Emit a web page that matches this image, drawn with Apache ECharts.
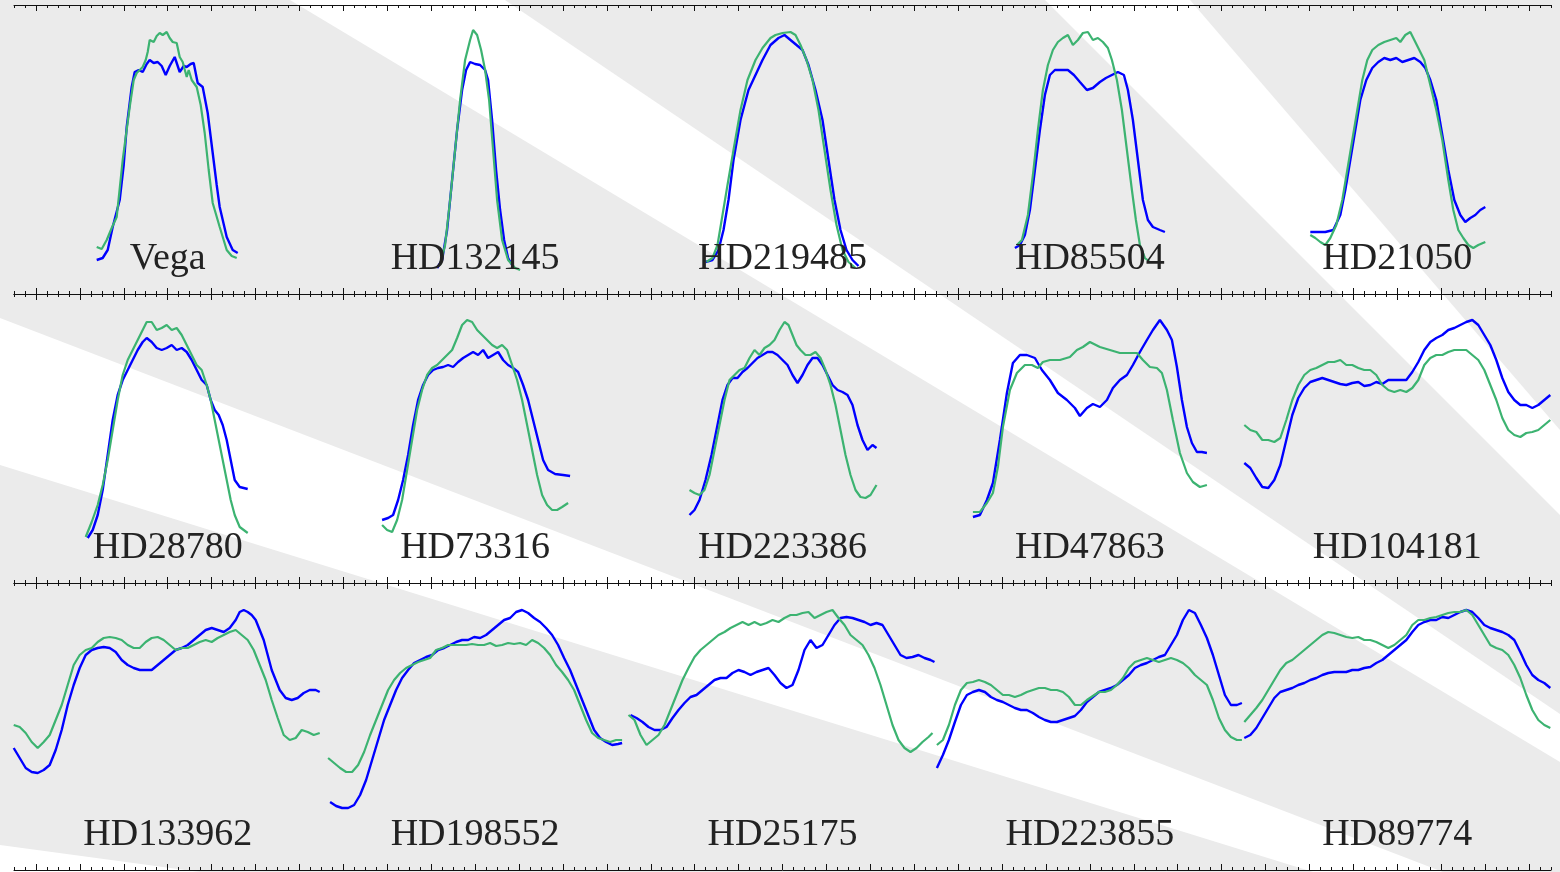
<!DOCTYPE html>
<html>
<head>
<meta charset="utf-8">
<script src="https://cdn.jsdelivr.net/npm/echarts@6/dist/echarts.min.js"></script>
<style>
  html, body { margin: 0; padding: 0; background: #ebebeb; }
  #chart { width: 1560px; height: 872px; }
</style>
</head>
<body>
<div id="chart"></div>
<script>
// star names, row by row
var stars = ['Vega', 'HD132145', 'HD219485', 'HD85504', 'HD21050',
             'HD28780', 'HD73316', 'HD223386', 'HD47863', 'HD104181',
             'HD133962', 'HD198552', 'HD25175', 'HD223855', 'HD89774'];

// line profiles: [offset from panel centre, flux above row floor]
var blueVega = [[-71,34],[-65,36],[-60,44],[-55,67],[-48,94],[-44,129],[-41,167],[-36,207],[-33,222],[-29,224],[-25,222],[-21,230],[-18,234],[-14,231],[-10,232],[-6,228],[-2,219],[2,228],[7,237],[12,222],[16,228],[19,227],[23,230],[26,231],[30,211],[35,207],[40,181],[45,141],[49,109],[52,87],[59,57],[65,44],[70,41]];
var greenVega = [[-71,47],[-66,45],[-61,54],[-56,66],[-51,77],[-45,134],[-38,187],[-34,214],[-31,221],[-25,227],[-22,234],[-20,242],[-18,254],[-14,252],[-11,258],[-8,261],[-5,259],[-1,262],[2,256],[5,252],[9,251],[12,237],[15,232],[17,231],[19,217],[21,224],[24,214],[29,207],[33,189],[37,161],[41,124],[45,91],[52,67],[59,44],[64,38],[69,36]];

var blueHD132145 = [[-38,26],[-33,34],[-28,64],[-23,114],[-18,164],[-13,204],[-9,224],[-5,232],[0,230],[5,229],[10,224],[13,214],[17,174],[21,124],[25,84],[29,54],[33,36],[37,29]];
var greenHD132145 = [[-35,29],[-30,49],[-25,94],[-20,144],[-15,194],[-10,234],[-5,254],[-2,264],[2,259],[6,244],[10,224],[14,194],[18,144],[22,94],[27,54],[33,34],[40,26],[45,24]];

var blueHD219485 = [[-77,32],[-70,34],[-64,44],[-59,64],[-54,94],[-49,134],[-42,174],[-34,204],[-27,219],[-20,234],[-12,249],[-4,256],[2,259],[8,254],[14,249],[20,244],[26,229],[33,204],[40,174],[46,134],[52,94],[58,64],[64,44],[70,34],[76,28]];
var greenHD219485 = [[-76,32],[-70,36],[-65,49],[-60,79],[-55,109],[-49,144],[-42,184],[-35,214],[-27,234],[-20,246],[-12,256],[-7,259],[0,261],[8,262],[13,259],[18,249],[24,234],[30,214],[36,184],[42,144],[48,104],[54,69],[60,44],[66,32],[73,26]];

var blueHD85504 = [[-75,46],[-70,49],[-65,59],[-60,84],[-55,124],[-50,164],[-45,199],[-40,219],[-35,224],[-28,224],[-22,224],[-16,219],[-10,212],[-3,204],[3,206],[10,212],[16,216],[22,219],[28,222],[34,219],[38,204],[43,174],[48,134],[53,94],[58,74],[63,67],[70,64],[75,62]];
var greenHD85504 = [[-73,49],[-68,54],[-62,79],[-57,119],[-52,164],[-47,204],[-42,229],[-37,244],[-32,252],[-27,256],[-22,259],[-17,249],[-12,254],[-7,261],[-2,262],[3,254],[8,256],[13,252],[18,246],[22,234],[27,214],[32,184],[37,144],[42,104],[46,74],[50,49],[55,36],[60,32],[65,32],[70,32]];

var blueHD21050 = [[-87,62],[-79,62],[-72,62],[-64,64],[-57,79],[-52,104],[-47,134],[-42,164],[-37,194],[-31,214],[-25,226],[-19,232],[-13,236],[-7,234],[-1,236],[5,232],[11,234],[17,236],[23,232],[28,226],[33,214],[39,194],[45,159],[51,124],[57,94],[63,79],[68,72],[73,76],[78,79],[83,84],[88,87]];
var greenHD21050 = [[-87,59],[-82,56],[-77,52],[-72,49],[-67,56],[-61,69],[-55,94],[-50,124],[-45,154],[-40,184],[-35,214],[-30,234],[-25,244],[-19,249],[-13,252],[-7,254],[-1,256],[3,252],[8,259],[13,262],[17,254],[21,246],[27,234],[33,209],[39,184],[45,154],[51,114],[56,84],[61,64],[66,56],[71,49],[76,46],[81,49],[88,52]];

var blueHD28780 = [[-80,45],[-75,53],[-70,68],[-65,93],[-60,128],[-55,163],[-50,188],[-45,203],[-40,213],[-35,223],[-30,233],[-25,241],[-21,245],[-16,241],[-11,235],[-6,233],[-1,235],[4,238],[9,233],[14,235],[19,231],[24,223],[29,213],[34,203],[39,198],[43,183],[47,173],[51,168],[55,158],[59,143],[63,123],[67,103],[72,96],[80,94]];
var greenHD28780 = [[-82,46],[-76,61],[-70,78],[-65,98],[-60,123],[-55,153],[-50,183],[-45,208],[-40,223],[-35,233],[-30,243],[-25,253],[-21,261],[-16,261],[-11,253],[-6,255],[-1,258],[4,253],[9,255],[14,248],[19,238],[24,228],[29,218],[34,213],[39,198],[43,183],[47,163],[51,143],[55,123],[59,103],[63,83],[67,68],[72,56],[80,50]];

var blueHD73316 = [[-93,63],[-87,65],[-82,68],[-77,83],[-72,103],[-67,128],[-62,158],[-57,183],[-52,198],[-47,208],[-42,213],[-37,215],[-32,216],[-27,218],[-22,216],[-17,221],[-12,225],[-7,228],[-2,231],[3,228],[8,233],[13,225],[18,228],[23,231],[28,223],[33,218],[38,215],[43,211],[48,198],[53,183],[58,163],[63,143],[68,123],[73,113],[80,109],[88,108],[95,107]];
var greenHD73316 = [[-93,58],[-88,53],[-83,51],[-78,63],[-73,83],[-68,113],[-63,143],[-58,173],[-53,193],[-48,208],[-43,215],[-38,218],[-33,223],[-28,228],[-23,233],[-18,245],[-13,258],[-8,263],[-3,261],[2,253],[7,248],[12,243],[17,238],[22,235],[27,238],[32,233],[37,218],[42,203],[47,183],[52,158],[57,133],[62,108],[67,88],[72,78],[77,73],[82,73],[87,76],[93,80]];

var blueHD223386 = [[-93,68],[-88,73],[-83,83],[-77,103],[-71,128],[-65,158],[-60,183],[-55,198],[-50,205],[-45,205],[-40,211],[-35,215],[-30,220],[-25,225],[-20,228],[-15,231],[-10,231],[-5,228],[0,223],[5,218],[10,208],[15,200],[20,208],[25,218],[30,225],[35,225],[40,218],[45,208],[50,198],[55,193],[60,191],[65,188],[70,178],[75,158],[80,143],[85,133],[90,138],[94,135]];
var greenHD223386 = [[-93,93],[-88,90],[-83,88],[-78,93],[-73,108],[-68,133],[-63,158],[-58,183],[-53,203],[-48,208],[-43,213],[-38,215],[-33,225],[-28,233],[-23,228],[-18,235],[-13,238],[-8,243],[-3,253],[2,261],[6,258],[10,248],[14,238],[18,233],[23,228],[28,228],[33,231],[38,225],[43,213],[48,198],[53,178],[58,153],[63,128],[68,108],[73,93],[78,86],[83,85],[88,88],[94,98]];

var blueHD47863 = [[-117,66],[-110,68],[-103,83],[-97,100],[-90,143],[-83,190],[-77,220],[-70,228],[-63,228],[-55,225],[-48,213],[-40,203],[-32,190],[-23,183],[-15,175],[-10,167],[-3,175],[3,179],[10,176],[17,183],[23,195],[30,203],[37,208],[43,218],[50,231],[57,243],[63,253],[70,263],[77,253],[82,243],[87,216],[92,183],[97,156],[102,140],[107,131],[112,131],[117,130]];
var greenHD47863 = [[-117,71],[-110,71],[-103,80],[-97,90],[-92,116],[-87,156],[-80,193],[-73,210],[-65,218],[-58,218],[-52,215],[-47,221],[-40,223],[-30,223],[-20,226],[-13,233],[-7,236],[0,241],[10,236],[20,233],[30,230],[40,230],[47,230],[53,223],[60,216],[67,215],[72,210],[77,193],[83,163],[90,130],[97,110],[103,101],[110,96],[117,98]];

var blueHD104181 = [[-153,120],[-147,115],[-141,105],[-135,96],[-129,95],[-123,103],[-117,118],[-111,143],[-105,168],[-99,185],[-93,195],[-87,201],[-81,203],[-75,205],[-69,203],[-63,201],[-57,199],[-51,198],[-45,200],[-39,201],[-33,197],[-27,198],[-21,201],[-15,199],[-9,203],[-3,203],[3,203],[9,203],[15,211],[21,221],[27,233],[33,241],[39,245],[45,248],[51,253],[57,255],[63,258],[69,261],[75,263],[81,258],[87,248],[93,238],[99,223],[105,205],[111,191],[117,183],[123,178],[129,178],[135,175],[141,178],[147,183],[153,188]];
var greenHD104181 = [[-153,158],[-147,153],[-141,151],[-135,143],[-129,143],[-123,141],[-117,145],[-111,163],[-105,183],[-99,198],[-93,208],[-87,213],[-81,215],[-75,218],[-69,221],[-63,221],[-57,223],[-51,218],[-45,218],[-39,215],[-33,213],[-27,213],[-21,208],[-15,198],[-9,193],[-3,191],[3,193],[9,191],[15,195],[21,203],[27,218],[33,225],[39,228],[45,228],[51,231],[57,233],[63,233],[69,233],[75,228],[81,223],[87,213],[93,198],[99,183],[105,165],[111,153],[117,148],[123,146],[129,150],[135,151],[141,153],[147,158],[153,163]];

var blueHD133962 = [[-154,122],[-148,112],[-142,102],[-136,98],[-130,97],[-124,100],[-118,105],[-112,120],[-106,140],[-100,165],[-94,185],[-88,202],[-82,215],[-76,220],[-70,222],[-64,223],[-58,222],[-52,218],[-46,210],[-40,205],[-34,202],[-28,200],[-22,200],[-16,200],[-10,205],[-4,210],[2,215],[8,220],[14,222],[20,225],[26,230],[32,235],[38,240],[44,242],[50,240],[56,238],[62,242],[68,250],[72,258],[76,260],[80,258],[84,255],[88,250],[92,240],[96,230],[100,215],[104,200],[108,190],[112,180],[118,172],[124,170],[130,172],[136,177],[142,180],[148,180],[152,178]];
var greenHD133962 = [[-154,145],[-148,143],[-142,137],[-136,128],[-130,122],[-124,128],[-118,135],[-112,150],[-106,165],[-100,185],[-94,205],[-88,215],[-82,220],[-76,222],[-70,228],[-64,232],[-58,233],[-52,232],[-46,230],[-40,225],[-34,222],[-28,222],[-22,228],[-16,232],[-10,233],[-4,230],[2,225],[8,220],[14,222],[20,222],[26,225],[32,228],[38,230],[44,228],[50,232],[56,235],[62,238],[68,240],[74,235],[80,230],[86,220],[92,205],[98,190],[104,170],[110,152],[116,135],[122,130],[128,132],[134,140],[140,138],[146,135],[152,137]];

var blueHD198552 = [[-145,68],[-139,64],[-133,62],[-127,62],[-121,65],[-115,75],[-109,90],[-103,110],[-97,130],[-91,150],[-85,165],[-79,180],[-73,192],[-67,200],[-61,207],[-55,210],[-49,213],[-43,215],[-37,220],[-31,222],[-25,225],[-19,228],[-13,230],[-7,230],[-1,233],[5,232],[11,235],[17,240],[23,245],[29,250],[35,252],[41,258],[47,260],[53,257],[59,252],[65,248],[71,242],[77,235],[83,225],[89,212],[95,200],[101,185],[107,170],[113,155],[119,140],[125,132],[131,128],[137,125],[143,126],[147,127]];
var greenHD198552 = [[-147,112],[-141,107],[-135,102],[-129,98],[-123,98],[-117,105],[-111,118],[-105,135],[-99,150],[-93,165],[-87,180],[-81,190],[-75,197],[-69,202],[-63,205],[-57,208],[-51,210],[-45,212],[-39,220],[-33,222],[-27,225],[-21,225],[-15,225],[-9,225],[-3,226],[3,225],[9,225],[15,227],[21,224],[27,225],[33,227],[39,226],[45,227],[51,225],[57,230],[63,227],[69,222],[75,215],[81,205],[87,198],[93,190],[99,180],[105,165],[111,150],[117,137],[123,132],[129,130],[135,128],[141,130],[147,130]];

var blueHD25175 = [[-152,155],[-146,152],[-140,148],[-134,143],[-128,140],[-122,140],[-116,143],[-110,152],[-104,160],[-98,167],[-92,173],[-86,175],[-80,180],[-74,185],[-68,190],[-62,192],[-56,192],[-50,197],[-44,200],[-38,198],[-32,195],[-26,198],[-20,200],[-14,202],[-8,195],[-2,187],[4,182],[10,185],[16,200],[22,220],[28,230],[34,222],[40,225],[46,235],[52,245],[58,252],[64,253],[70,252],[76,250],[82,248],[88,245],[94,247],[100,245],[106,235],[112,225],[118,215],[124,212],[130,213],[136,215],[142,212],[148,210],[152,208]];
var greenHD25175 = [[-154,155],[-148,150],[-142,135],[-136,125],[-130,130],[-124,135],[-118,145],[-112,160],[-106,175],[-100,190],[-94,202],[-88,213],[-82,220],[-76,225],[-70,230],[-64,235],[-58,238],[-52,242],[-46,245],[-40,248],[-34,245],[-28,248],[-22,245],[-16,247],[-10,250],[-4,248],[2,252],[8,255],[14,255],[20,257],[26,258],[32,252],[38,255],[44,258],[50,260],[56,252],[62,245],[68,235],[74,230],[80,225],[86,215],[92,202],[98,185],[104,165],[110,145],[116,130],[122,122],[128,118],[134,122],[140,128],[146,133],[150,137]];

var blueHD223855 = [[-153,102],[-147,115],[-141,130],[-135,148],[-129,165],[-123,175],[-117,178],[-111,180],[-105,178],[-99,173],[-93,170],[-87,168],[-81,165],[-75,162],[-69,160],[-63,160],[-57,157],[-51,153],[-45,150],[-39,148],[-33,148],[-27,150],[-21,152],[-15,154],[-9,160],[-3,168],[3,173],[9,178],[15,180],[21,182],[27,185],[33,190],[39,195],[45,202],[51,205],[57,207],[63,210],[69,213],[75,215],[81,225],[87,235],[93,250],[99,260],[105,257],[111,245],[117,232],[123,215],[129,195],[135,175],[141,165],[147,165],[152,167]];
var greenHD223855 = [[-153,125],[-147,130],[-141,145],[-135,165],[-129,180],[-123,187],[-117,188],[-111,190],[-105,188],[-99,185],[-93,180],[-87,175],[-81,175],[-75,173],[-69,175],[-63,178],[-57,180],[-51,182],[-45,182],[-39,180],[-33,180],[-27,178],[-21,173],[-15,165],[-9,165],[-3,170],[3,174],[9,178],[15,178],[21,180],[27,185],[33,192],[39,202],[45,208],[51,210],[57,212],[63,210],[69,208],[75,210],[81,212],[87,210],[93,207],[99,202],[105,195],[111,190],[117,185],[123,170],[129,152],[135,140],[141,133],[147,130],[152,130]];

var blueHD89774 = [[-153,132],[-147,135],[-141,142],[-135,152],[-129,162],[-123,172],[-117,178],[-111,180],[-105,182],[-99,185],[-93,187],[-87,190],[-81,192],[-75,195],[-69,197],[-63,198],[-57,198],[-51,198],[-45,200],[-39,200],[-33,202],[-27,203],[-21,207],[-15,210],[-9,215],[-3,220],[3,225],[9,230],[15,238],[21,245],[27,248],[33,250],[39,250],[45,253],[51,252],[57,255],[63,258],[69,260],[75,258],[81,252],[87,245],[93,242],[99,240],[105,238],[111,235],[117,230],[123,218],[129,205],[135,195],[141,190],[147,187],[153,182]];
var greenHD89774 = [[-153,148],[-147,155],[-141,162],[-135,170],[-129,180],[-123,190],[-117,200],[-111,207],[-105,210],[-99,215],[-93,220],[-87,225],[-81,230],[-75,235],[-69,238],[-63,237],[-57,235],[-51,233],[-45,232],[-39,233],[-33,230],[-27,230],[-21,228],[-15,225],[-9,222],[-3,225],[3,230],[9,235],[15,245],[21,250],[27,250],[33,252],[39,253],[45,255],[51,257],[57,258],[63,258],[69,260],[75,255],[81,245],[87,235],[93,225],[99,222],[105,220],[111,215],[117,205],[123,192],[129,175],[135,160],[141,150],[147,145],[153,142]];

var blueProfiles = [blueVega, blueHD132145, blueHD219485, blueHD85504, blueHD21050,
                    blueHD28780, blueHD73316, blueHD223386, blueHD47863, blueHD104181,
                    blueHD133962, blueHD198552, blueHD25175, blueHD223855, blueHD89774];
var greenProfiles = [greenVega, greenHD132145, greenHD219485, greenHD85504, greenHD21050,
                     greenHD28780, greenHD73316, greenHD223386, greenHD47863, greenHD104181,
                     greenHD133962, greenHD198552, greenHD25175, greenHD223855, greenHD89774];

// layout
var GRID_LEFT = 14, GRID_W = 1537, NCOL = 5;
var ROW_TOPS = [5, 294, 583];
var ROW_HEIGHTS = [289, 289, 287];
var PANEL_W = GRID_W / NCOL;
var MAJOR = GRID_W / 35;

var majorTicks = [], minorTicks = [];
for (var k = 0; k < 35; k++) majorTicks.push(MAJOR / 2 + k * MAJOR);
for (var q = 0; q <= 140; q++) minorTicks.push(q * MAJOR / 4);

// grey background with pale diagonal bands
var bands = [
  [[290, 0], [505, 0], [1560, 714], [1560, 762]],
  [[1045, 0], [1190, 0], [1560, 430], [1560, 515]],
  [[0, 318], [1443, 872], [1313, 872], [0, 465]],
  [[0, 845], [200, 872], [0, 872]]
];

var myChart = echarts.init(document.getElementById('chart'));

var grids = [], xAxes = [], yAxes = [], series = [], graphics = [];

function tickAxis(grid, pos, ticks, len, showLine) {
  return {
    gridIndex: grid, type: 'value', min: 0, max: GRID_W, position: pos,
    axisLine: { show: showLine, onZero: false, lineStyle: { color: '#111', width: 1 } },
    axisTick: { show: true, inside: true, length: len, customValues: ticks,
                lineStyle: { color: '#111', width: 1 } },
    axisLabel: { show: false },
    splitLine: { show: false }
  };
}

for (var r = 0; r < 3; r++) {
  // grid 2r holds the curves and the long ticks, grid 2r+1 the short ticks
  for (var g = 0; g < 2; g++) {
    grids.push({ left: GRID_LEFT, top: ROW_TOPS[r], width: GRID_W, height: ROW_HEIGHTS[r] });
    yAxes.push({ gridIndex: 2 * r + g, type: 'value', min: 0, max: ROW_HEIGHTS[r], show: false });
  }
  xAxes.push(tickAxis(2 * r, 'top', majorTicks, 6, true));
  xAxes.push(tickAxis(2 * r, 'bottom', majorTicks, 6, true));
  xAxes.push(tickAxis(2 * r + 1, 'top', minorTicks, 3, false));
  xAxes.push(tickAxis(2 * r + 1, 'bottom', minorTicks, 3, false));
}

stars.forEach(function (name, i) {
  var row = Math.floor(i / NCOL), col = i % NCOL;
  var centre = (col + 0.5) * PANEL_W;
  var shift = function (d) { return [centre + d[0], d[1]]; };
  series.push({
    name: name + ' a', type: 'line', xAxisIndex: row * 4, yAxisIndex: row * 2,
    data: blueProfiles[i].map(shift), showSymbol: false, smooth: false,
    lineStyle: { color: '#0000ff', width: 2.4 }, z: 3
  });
  series.push({
    name: name + ' b', type: 'line', xAxisIndex: row * 4, yAxisIndex: row * 2,
    data: greenProfiles[i].map(shift), showSymbol: false, smooth: false,
    lineStyle: { color: '#3cb371', width: 2.2 }, z: 4
  });
  graphics.push({
    type: 'text', z: 100,
    x: GRID_LEFT + centre, y: ROW_TOPS[row] + ROW_HEIGHTS[row] - 35,
    style: { text: name, fill: '#222', font: '38px "Liberation Serif"',
             textAlign: 'center', textVerticalAlign: 'middle' }
  });
});

bands.forEach(function (pts) {
  graphics.push({ type: 'polygon', z: -100, shape: { points: pts },
                  style: { fill: '#ffffff' }, silent: true });
});

var option = {
  backgroundColor: '#ebebeb',
  animation: false,
  grid: grids,
  xAxis: xAxes,
  yAxis: yAxes,
  series: series,
  graphic: { elements: graphics }
};

myChart.setOption(option);
</script>
</body>
</html>
